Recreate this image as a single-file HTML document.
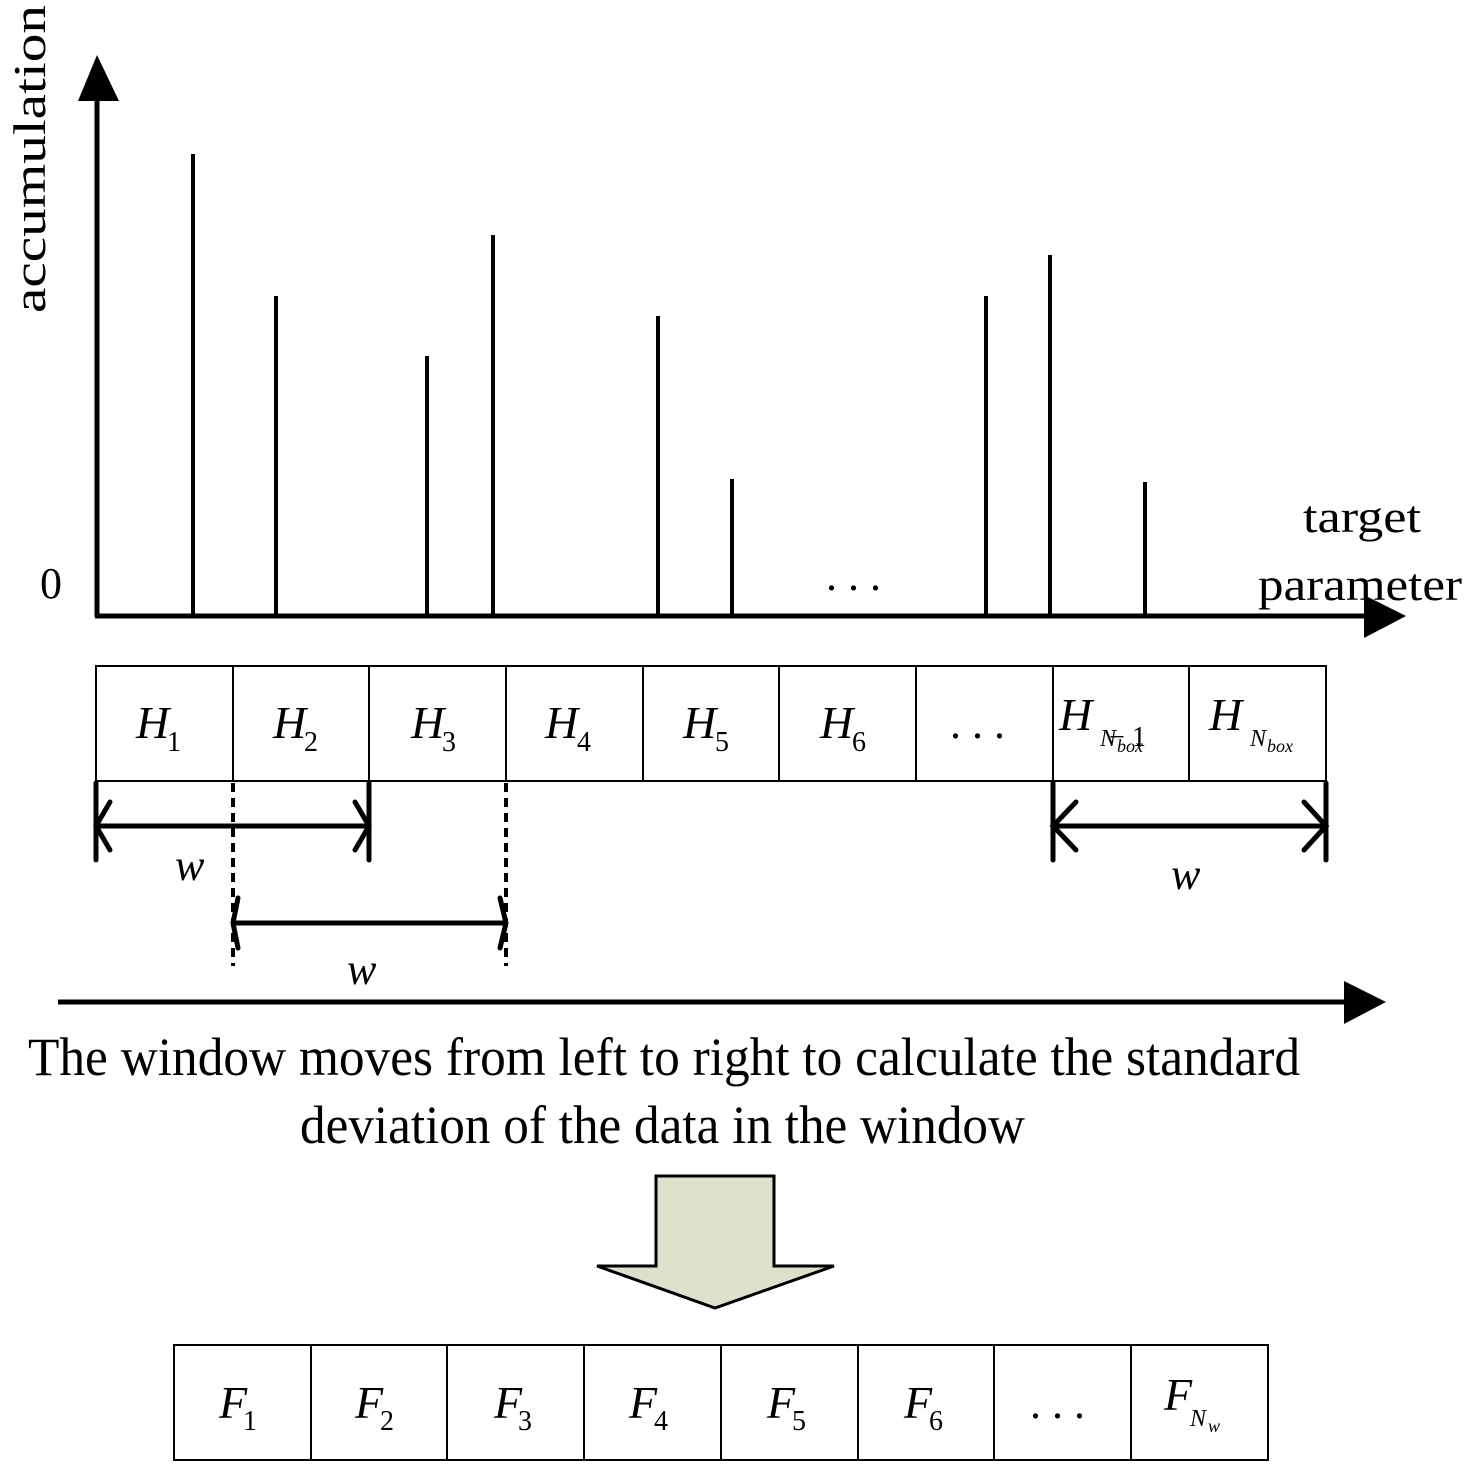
<!DOCTYPE html>
<html><head><meta charset="utf-8"><style>html,body{margin:0;padding:0;background:#fff}svg{display:block}</style></head>
<body>
<svg width="1476" height="1472" viewBox="0 0 1476 1472" xmlns="http://www.w3.org/2000/svg" font-family="'Liberation Serif', serif">
<rect width="1476" height="1472" fill="#fff"/>
<!-- axes -->
<line x1="97" y1="617" x2="97" y2="95" stroke="#000" stroke-width="5"/>
<polygon points="97,55 78,101 119,101" fill="#000"/>
<line x1="95" y1="616" x2="1370" y2="616" stroke="#000" stroke-width="5"/>
<polygon points="1406,616 1364,595 1364,638" fill="#000"/>
<text transform="translate(45,313) rotate(-90)" font-size="46" textLength="308" lengthAdjust="spacingAndGlyphs">accumulation</text>
<text x="40" y="598" font-size="44">0</text>
<text x="1303" y="532" font-size="46" textLength="118" lengthAdjust="spacingAndGlyphs">target</text>
<text x="1258" y="600" font-size="46" textLength="204" lengthAdjust="spacingAndGlyphs">parameter</text>
<!-- bars -->
<g stroke="#000" stroke-width="4">
<line x1="193" y1="154" x2="193" y2="616"/>
<line x1="276" y1="296" x2="276" y2="616"/>
<line x1="427" y1="356" x2="427" y2="616"/>
<line x1="493" y1="235" x2="493" y2="616"/>
<line x1="658" y1="316" x2="658" y2="616"/>
<line x1="732" y1="479" x2="732" y2="616"/>
<line x1="986" y1="296" x2="986" y2="616"/>
<line x1="1050" y1="255" x2="1050" y2="616"/>
<line x1="1145" y1="482" x2="1145" y2="616"/>
</g>
<text x="826" y="590" font-size="44">. . .</text>
<!-- H boxes -->
<g fill="none" stroke="#000" stroke-width="2">
<rect x="96" y="666" width="1230" height="115"/>
<line x1="233" y1="666" x2="233" y2="781"/><line x1="369" y1="666" x2="369" y2="781"/>
<line x1="506" y1="666" x2="506" y2="781"/><line x1="643" y1="666" x2="643" y2="781"/>
<line x1="779" y1="666" x2="779" y2="781"/><line x1="916" y1="666" x2="916" y2="781"/>
<line x1="1053" y1="666" x2="1053" y2="781"/><line x1="1189" y1="666" x2="1189" y2="781"/>
</g>
<g font-size="46" font-style="italic">
<text x="136" y="738">H</text><text x="273" y="738">H</text><text x="411" y="738">H</text>
<text x="545" y="738">H</text><text x="683" y="738">H</text><text x="820" y="738">H</text>
<text x="1059" y="730">H</text><text x="1209" y="730">H</text>
</g>
<g font-size="28">
<text x="167" y="751">1</text><text x="304" y="751">2</text><text x="442" y="751">3</text>
<text x="577" y="751">4</text><text x="715" y="751">5</text><text x="852" y="751">6</text>
<text x="1132" y="746">1</text>
</g>
<text x="1109" y="746" font-size="28">−</text>
<g font-style="italic">
<text x="1100" y="746" font-size="24">N</text><text x="1117" y="752" font-size="18">box</text>
<text x="1250" y="746" font-size="24">N</text><text x="1267" y="752" font-size="18">box</text>
</g>
<text x="950" y="738" font-size="44">. . .</text>
<!-- dimension arrows -->
<g stroke="#000" stroke-width="5" fill="none" stroke-linecap="round">
<line x1="96" y1="783" x2="96" y2="860"/><line x1="369" y1="783" x2="369" y2="860"/>
<line x1="98" y1="826" x2="367" y2="826"/>
<polyline points="110,802 96,826 110,850" stroke-linejoin="miter"/>
<polyline points="355,802 369,826 355,850"/>
<line x1="235" y1="923" x2="504" y2="923"/>
<polyline points="238,898 233,923 238,948"/>
<polyline points="500,898 506,923 500,948"/>
<line x1="1053" y1="783" x2="1053" y2="860"/><line x1="1326" y1="783" x2="1326" y2="860"/>
<line x1="1055" y1="826" x2="1324" y2="826"/>
<polyline points="1076,802 1053,826 1076,850"/>
<polyline points="1304,802 1326,826 1304,850"/>
</g>
<g stroke="#000" stroke-width="4" stroke-dasharray="9,6">
<line x1="233" y1="783" x2="233" y2="966"/>
<line x1="506" y1="783" x2="506" y2="966"/>
</g>
<g font-size="44" font-style="italic">
<text x="175" y="880">w</text><text x="347" y="984">w</text><text x="1171" y="889">w</text>
</g>
<!-- long arrow -->
<line x1="58" y1="1002" x2="1350" y2="1002" stroke="#000" stroke-width="5"/>
<polygon points="1386,1002 1344,981 1344,1024" fill="#000"/>
<text x="28" y="1075" font-size="54" textLength="1272" lengthAdjust="spacingAndGlyphs">The window moves from left to right to calculate the standard</text>
<text x="300" y="1143" font-size="54" textLength="725" lengthAdjust="spacingAndGlyphs">deviation of the data in the window</text>
<!-- block arrow -->
<polygon points="656,1176 774,1176 774,1266 834,1266 715,1308 597,1266 656,1266" fill="#dde0cb" stroke="#000" stroke-width="3"/>
<!-- F boxes -->
<g fill="none" stroke="#000" stroke-width="2">
<rect x="174" y="1345" width="1094" height="115"/>
<line x1="311" y1="1345" x2="311" y2="1460"/><line x1="447" y1="1345" x2="447" y2="1460"/>
<line x1="584" y1="1345" x2="584" y2="1460"/><line x1="721" y1="1345" x2="721" y2="1460"/>
<line x1="858" y1="1345" x2="858" y2="1460"/><line x1="994" y1="1345" x2="994" y2="1460"/>
<line x1="1131" y1="1345" x2="1131" y2="1460"/>
</g>
<g font-size="46" font-style="italic">
<text x="219" y="1418">F</text><text x="355" y="1418">F</text><text x="494" y="1418">F</text>
<text x="629" y="1418">F</text><text x="767" y="1418">F</text><text x="904" y="1418">F</text>
<text x="1164" y="1410">F</text>
</g>
<g font-size="28">
<text x="243" y="1430">1</text><text x="380" y="1430">2</text><text x="518" y="1430">3</text>
<text x="654" y="1430">4</text><text x="792" y="1430">5</text><text x="929" y="1430">6</text>
</g>
<g font-style="italic"><text x="1190" y="1426" font-size="24">N</text><text x="1208" y="1432" font-size="18">w</text></g>
<text x="1030" y="1418" font-size="44">. . .</text>
</svg>
</body></html>
